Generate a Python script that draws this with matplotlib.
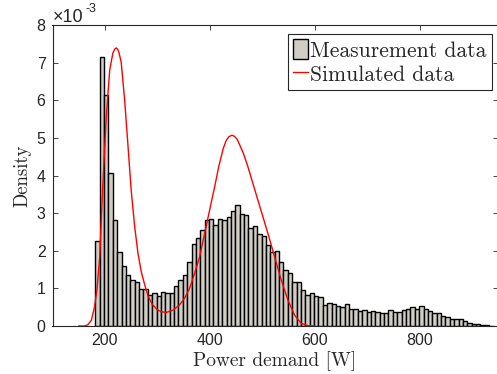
import numpy as np
import matplotlib
matplotlib.use("Agg")
import matplotlib.pyplot as plt
from matplotlib.patches import Patch
from matplotlib.lines import Line2D

# ---- data (density in units of 1e-3) ----
bin_start = 181.5
bin_width = 8.34
measured_density = [
    2.27, 7.15, 6.15, 4.07, 2.81, 1.98, 1.60, 1.35, 1.22, 1.17,
    0.98, 0.99, 0.83, 0.87, 0.80, 0.90, 0.88, 0.88, 1.06, 1.22,
    1.35, 1.70, 2.17, 2.33, 2.55, 2.81, 2.85, 2.68, 2.85, 2.83,
    2.90, 3.06, 3.21, 2.99, 2.94, 2.61, 2.67, 2.45, 2.38, 2.14,
    1.97, 2.00, 1.71, 1.48, 1.40, 1.17, 1.18, 0.96, 0.83, 0.87,
    0.79, 0.77, 0.56, 0.60, 0.59, 0.53, 0.51, 0.58, 0.46, 0.44,
    0.41, 0.43, 0.36, 0.40, 0.37, 0.35, 0.34, 0.42, 0.37, 0.38,
    0.42, 0.45, 0.51, 0.45, 0.53, 0.44, 0.41, 0.34, 0.34, 0.27,
    0.23, 0.19, 0.19, 0.18, 0.12, 0.09, 0.05, 0.05, 0.03, 0.03,
    0.01,
]

sim_power = [150, 160, 167, 174, 180, 185, 190, 196, 202.5, 209, 215, 218.5,
             221.5, 224.5, 227, 231, 237.5, 243.8, 250, 256.6, 262.9, 269,
             275.6, 282, 290, 299, 307, 316.8, 329.5, 342, 351.8, 361.3,
             370.8, 380.4, 389.9, 399.4, 409, 417, 425.4, 431, 436, 441.9,
             447, 452, 463.5, 472, 483.8, 497.8, 510.5, 523.2, 535.9, 548.6,
             561.3, 573.9, 586.7, 600]
sim_density = [0.0, 0.0, 0.03, 0.15, 0.5, 1.0, 1.84, 3.8, 5.56, 6.8, 7.25, 7.36,
               7.39, 7.35, 7.25, 7.0, 6.0, 4.8, 3.6, 2.64, 1.93, 1.45,
               1.1, 0.8, 0.58, 0.44, 0.38, 0.36, 0.42, 0.56, 0.74, 1.0,
               1.4, 1.84, 2.46, 3.08, 3.7, 4.25, 4.72, 4.93, 5.03, 5.07,
               5.04, 4.96, 4.6, 4.25, 3.7, 3.05, 2.46, 1.84, 1.22, 0.69,
               0.29, 0.07, 0.01, 0.0]

x_ticks = [200, 400, 600, 800]
y_ticks = [0, 1, 2, 3, 4, 5, 6, 7, 8]

# ---- style ----
W, H = 497, 374
fig = plt.figure(figsize=(W / 100, H / 100), dpi=100)
ax = fig.add_axes([52.5 / W, (H - 326) / H, (497.5 - 52.5) / W, (326 - 25) / H])

dark = '#262626'
sans = ['Liberation Sans', 'DejaVu Sans']
serif = ['cmr10', 'DejaVu Serif']

edges = bin_start + bin_width * np.arange(len(measured_density))
ax.bar(edges, measured_density, width=bin_width, align='edge',
       color='#d0cdc5', edgecolor='black', linewidth=1.0, zorder=2)
ax.plot(sim_power, sim_density, color='#ff0000', linewidth=1.0, zorder=3)

ax.set_xlim(100, 948)
ax.set_ylim(0, 8)
ax.set_xticks(x_ticks)
ax.set_yticks(y_ticks)
ax.tick_params(direction='in', length=3.5, width=0.6, colors=dark,
               labelsize=11.5, top=True, right=True, pad=5)
for lab in ax.get_xticklabels() + ax.get_yticklabels():
    lab.set_family(sans)
    lab.set_color(dark)
for s in ax.spines.values():
    s.set_color(dark)
    s.set_linewidth(0.8)
    s.set_zorder(4)

ax.set_xlabel('Power demand [W]', family=serif, fontsize=14, color=dark, labelpad=2)
ax.set_ylabel('Density', family=serif, fontsize=13.5, color=dark, labelpad=4)

fig.text(53 / W, 1 - 22 / H, '\u00d710', family=sans, fontsize=13,
         color=dark, ha='left', va='baseline')
fig.text(85 / W, 1 - 12 / H, '-3', family=sans, fontsize=9,
         color=dark, ha='left', va='baseline')

handles = [Patch(facecolor='#d0cdc5', edgecolor='black', linewidth=1.0),
           Line2D([0], [0], color='#ff0000', linewidth=1.0)]
leg = ax.legend(handles, ['Measurement data', 'Simulated data'],
                loc='upper right', bbox_to_anchor=(0.988, 0.970),
                prop={'family': serif, 'size': 15.5},
                frameon=True, fancybox=False, framealpha=1,
                edgecolor=dark, handlelength=0.7, handleheight=1.05,
                handletextpad=0.1, borderpad=0.25, labelspacing=0.12,
                borderaxespad=0)
leg.get_frame().set_linewidth(0.8)
for t in leg.get_texts():
    t.set_color(dark)

fig.savefig('out.png', dpi=100)
